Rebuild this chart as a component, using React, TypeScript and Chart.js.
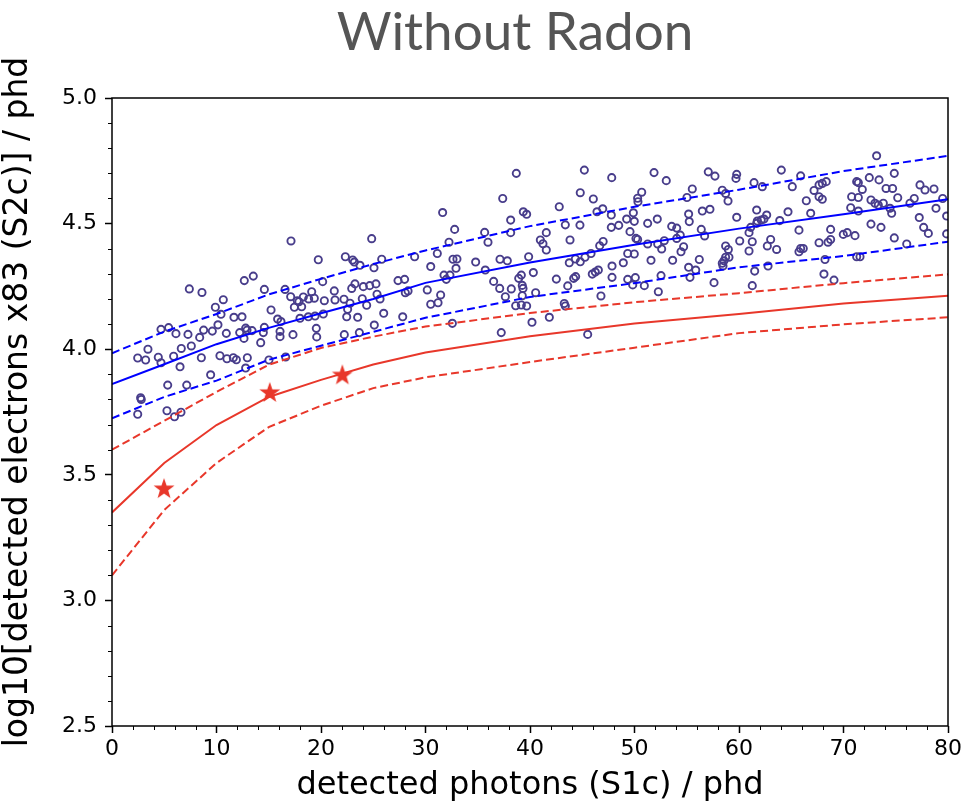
import React, { useEffect, useRef } from 'react';
import { Chart, registerables } from 'chart.js';

Chart.register(...registerables);

// ---- Data ----
const lineX = [0, 5, 10, 15, 20, 25, 30, 40, 50, 60, 70, 80];
const blueMedian = [3.861, 3.94, 4.02, 4.085, 4.143, 4.2, 4.264, 4.345, 4.416, 4.48, 4.537, 4.597];
const blueUpper = [3.984, 4.07, 4.14, 4.218, 4.28, 4.339, 4.393, 4.49, 4.567, 4.635, 4.709, 4.77];
const blueLower = [3.725, 3.81, 3.875, 3.958, 4.014, 4.069, 4.125, 4.208, 4.263, 4.326, 4.371, 4.428];
const redMedian = [3.35, 3.547, 3.698, 3.81, 3.878, 3.939, 3.987, 4.052, 4.102, 4.14, 4.182, 4.213];
const redUpper = [3.6, 3.715, 3.83, 3.938, 4.005, 4.05, 4.09, 4.144, 4.187, 4.223, 4.263, 4.298];
const redLower = [3.1, 3.36, 3.547, 3.69, 3.775, 3.845, 3.888, 3.949, 4.006, 4.064, 4.099, 4.127];

const starX = [4.98, 15.1, 22.04];
const starY = [3.447, 3.83, 3.9];

const eventX = [
  7.4, 8.61, 12.66, 13.52, 10.65, 9.89, 10.43, 11.67, 12.44, 4.69, 5.42, 6.12, 7.27, 8.77, 9.6, 10.14, 8.39, 7.59, 6.63,
  10.94, 12.22, 12.79, 12.92, 13.4, 12.63, 14.23, 3.44, 2.46, 3.22, 4.43, 4.69, 5.9, 6.51, 8.55, 10.33, 11.0, 11.61, 11.9,
  12.95, 12.79, 9.44, 5.33, 7.15, 2.74, 2.8, 2.46, 5.26, 5.98, 6.6,
  17.13, 19.74, 24.85, 22.33, 23.03, 23.19, 23.73, 25.07, 25.81, 14.58, 16.56, 17.1, 17.73, 18.31, 18.82, 19.11, 19.36,
  20.16, 20.32, 21.27, 21.34, 22.2, 22.94, 23.25, 24.05, 24.66, 25.26, 25.36, 25.65, 23.95, 24.37, 22.78, 22.55, 22.46,
  23.51, 26.0, 27.37, 28.0, 27.82, 15.22, 17.45, 17.89, 18.15, 18.79, 19.43, 20.22, 17.99, 15.85, 16.17, 14.58, 14.48,
  16.08, 16.08, 17.32, 19.55, 19.59, 22.23, 23.67, 25.1, 15.02, 16.62,
  38.69, 37.39, 31.64, 39.36, 39.68, 38.15, 32.79, 35.66, 38.15, 32.25, 35.98, 40.99, 41.24, 41.56, 41.56, 28.96, 31.13,
  32.63, 33.01, 32.92, 30.5, 34.8, 35.72, 37.13, 37.83, 39.87, 31.77, 31.99, 32.34, 28.07, 28.33, 30.17, 31.45, 30.5,
  31.2, 36.52, 37.1, 38.21, 38.92, 39.17, 39.26, 39.33, 40.32, 37.64, 39.26, 40.54, 38.63, 39.17, 39.68, 32.57, 37.25,
  40.19,
  45.2, 47.82, 51.87, 53.04, 44.81, 46.06, 50.69, 50.3, 50.33, 55.02, 42.8, 46.41, 46.96, 47.78, 49.89, 49.25, 49.98,
  52.18, 51.26, 55.18, 55.24, 43.38, 44.78, 47.78, 48.49, 49.57, 53.56, 54.04, 43.83, 47.0, 46.67, 50.14, 50.3, 51.26,
  52.22, 52.85, 52.6, 54.04, 54.38, 54.7, 54.45, 45.84, 45.26, 44.81, 44.34, 43.76, 49.35, 49.98, 51.58, 53.65, 48.93,
  55.18, 47.85, 42.52, 44.18, 44.37, 45.96, 46.25, 46.54, 47.85, 49.35, 50.08, 49.83, 50.94, 52.54, 52.28, 43.61, 46.79,
  43.28, 43.38, 41.85, 45.52,
  57.06, 57.7, 59.78, 59.71, 64.05, 65.9, 61.44, 62.23, 65.1, 67.66, 67.97, 68.35, 67.18, 67.66, 67.97, 55.53, 58.4,
  58.72, 58.95, 66.44, 56.49, 57.22, 59.78, 61.69, 62.65, 64.69, 66.86, 61.75, 62.13, 61.69, 62.39, 61.12, 60.96, 63.9,
  56.39, 56.71, 65.74, 68.77, 60.07, 61.27, 60.96, 63.03, 62.71, 63.6, 58.72, 58.98, 58.72, 59.04, 58.56, 58.4, 58.47,
  56.2, 55.86, 55.31, 65.9, 66.15, 65.74, 67.66, 68.52, 68.77, 62.78, 61.5, 57.61, 61.27, 68.23, 68.13, 69.09,
  73.17, 74.86, 72.47, 73.4, 71.26, 71.42, 77.32, 77.8, 78.66, 71.8, 74.07, 74.7, 70.78, 71.42, 75.19, 72.63, 73.01,
  73.33, 73.81, 76.36, 76.77, 79.49, 70.69, 71.42, 74.45, 74.61, 78.85, 77.25, 79.87, 72.63, 73.59, 77.67, 78.12, 69.98,
  70.36, 71.1, 74.86, 76.05, 79.87, 71.26, 71.58,
];

const eventY = [
  4.24, 4.226, 4.273, 4.291, 4.197, 4.167, 4.139, 4.127, 4.129, 4.079, 4.086, 4.062, 4.059, 4.076, 4.072, 4.097, 4.047,
  4.013, 4.003, 4.063, 4.066, 4.084, 4.076, 4.074, 4.043, 4.026, 4.0, 3.965, 3.957, 3.968, 3.946, 3.972, 3.93, 3.966,
  3.974, 3.962, 3.966, 3.958, 3.966, 3.925, 3.898, 3.857, 3.857, 3.807, 3.8, 3.741, 3.755, 3.731, 3.749,
  4.431, 4.356, 4.44, 4.368, 4.355, 4.347, 4.334, 4.324, 4.358, 4.238, 4.238, 4.209, 4.193, 4.208, 4.2, 4.229, 4.203,
  4.269, 4.193, 4.232, 4.196, 4.199, 4.242, 4.26, 4.249, 4.253, 4.26, 4.219, 4.2, 4.201, 4.175, 4.183, 4.159, 4.129,
  4.127, 4.143, 4.273, 4.278, 4.129, 4.156, 4.167, 4.189, 4.169, 4.129, 4.132, 4.14, 4.123, 4.12, 4.11, 4.087, 4.066,
  4.071, 4.05, 4.058, 4.083, 4.049, 4.058, 4.066, 4.096, 3.957, 3.969,
  4.7, 4.6, 4.544, 4.547, 4.537, 4.514, 4.477, 4.465, 4.464, 4.426, 4.426, 4.435, 4.42, 4.395, 4.464, 4.368, 4.381,
  4.358, 4.359, 4.322, 4.329, 4.347, 4.315, 4.358, 4.352, 4.368, 4.295, 4.278, 4.295, 4.225, 4.232, 4.236, 4.216, 4.179,
  4.185, 4.27, 4.242, 4.24, 4.282, 4.295, 4.254, 4.242, 4.305, 4.209, 4.213, 4.225, 4.173, 4.176, 4.172, 4.103, 4.066,
  4.107,
  4.713, 4.683, 4.703, 4.671, 4.623, 4.598, 4.625, 4.601, 4.587, 4.604, 4.567, 4.547, 4.559, 4.534, 4.543, 4.518, 4.509,
  4.518, 4.501, 4.538, 4.508, 4.495, 4.494, 4.485, 4.493, 4.468, 4.489, 4.482, 4.435, 4.429, 4.412, 4.441, 4.437, 4.419,
  4.419, 4.432, 4.399, 4.441, 4.454, 4.408, 4.388, 4.381, 4.366, 4.348, 4.359, 4.344, 4.381, 4.379, 4.354, 4.354, 4.344,
  4.326, 4.331, 4.279, 4.282, 4.289, 4.299, 4.307, 4.315, 4.286, 4.278, 4.285, 4.256, 4.253, 4.293, 4.229, 4.252, 4.212,
  4.182, 4.172, 4.127, 4.059,
  4.706, 4.689, 4.696, 4.68, 4.713, 4.69, 4.663, 4.647, 4.647, 4.654, 4.66, 4.667, 4.632, 4.607, 4.597, 4.638, 4.633,
  4.62, 4.59, 4.591, 4.55, 4.557, 4.525, 4.554, 4.534, 4.547, 4.541, 4.51, 4.514, 4.501, 4.518, 4.485, 4.464, 4.512,
  4.477, 4.451, 4.474, 4.477, 4.431, 4.428, 4.391, 4.437, 4.411, 4.397, 4.411, 4.397, 4.366, 4.366, 4.352, 4.342, 4.331,
  4.357, 4.315, 4.286, 4.401, 4.401, 4.388, 4.424, 4.426, 4.437, 4.331, 4.311, 4.265, 4.253, 4.357, 4.299, 4.275,
  4.77, 4.7, 4.683, 4.674, 4.667, 4.663, 4.654, 4.634, 4.638, 4.636, 4.64, 4.64, 4.607, 4.604, 4.603, 4.594, 4.581,
  4.574, 4.581, 4.581, 4.6, 4.6, 4.563, 4.55, 4.561, 4.541, 4.561, 4.524, 4.53, 4.498, 4.485, 4.485, 4.461, 4.457,
  4.464, 4.452, 4.443, 4.419, 4.459, 4.368, 4.368,
];

const xTickValues = [0, 10, 20, 30, 40, 50, 60, 70, 80];
const yTickValues = [2.5, 3.0, 3.5, 4.0, 4.5, 5.0];

const TITLE = 'Without Radon';
const X_LABEL = 'detected photons (S1c) / phd';
const Y_LABEL = 'log10[detected electrons x83 (S2c)] / phd';

const BLUE = '#0000ff';
const RED = '#e8372a';
const EVENT = 'rgb(72,61,139)';

function makeStar(r: number, color: string): HTMLCanvasElement {
  const c = document.createElement('canvas');
  const s = Math.ceil(r * 2 + 2);
  c.width = s;
  c.height = s;
  const ctx = c.getContext('2d')!;
  ctx.fillStyle = color;
  ctx.beginPath();
  for (let i = 0; i < 10; i++) {
    const rad = i % 2 === 0 ? r : r * 0.4;
    const a = -Math.PI / 2 + (i * Math.PI) / 5;
    ctx.lineTo(s / 2 + rad * Math.cos(a), s / 2 + 1 + rad * Math.sin(a));
  }
  ctx.closePath();
  ctx.fill();
  return c;
}

const decorations = {
  id: 'decorations',
  afterDatasetsDraw(chart: any) {
    const { ctx, chartArea } = chart;
    const { left, right, top, bottom } = chartArea;
    const xs = chart.scales.x;
    const ys = chart.scales.y;
    ctx.save();
    ctx.strokeStyle = '#000';
    ctx.lineWidth = 1.5;
    ctx.strokeRect(left, top, right - left, bottom - top);
    ctx.lineWidth = 1;
    ctx.beginPath();
    for (let v = 0; v <= 80; v += 2) {
      if (v % 10 === 0) continue;
      const px = Math.round(xs.getPixelForValue(v)) + 0.5;
      ctx.moveTo(px, bottom);
      ctx.lineTo(px, bottom + 4);
    }
    for (let i = 25; i <= 50; i++) {
      if (i % 5 === 0) continue;
      const py = Math.round(ys.getPixelForValue(i / 10)) + 0.5;
      ctx.moveTo(left, py);
      ctx.lineTo(left - 4, py);
    }
    ctx.stroke();
    ctx.restore();
  },
  afterDraw(chart: any) {
    const { ctx } = chart;
    ctx.save();
    // chart title
    ctx.fillStyle = '#555555';
    ctx.font = '53px Lato';
    ctx.textAlign = 'center';
    ctx.textBaseline = 'alphabetic';
    ctx.fillText(TITLE, 515, 50);
    // y axis title
    ctx.fillStyle = '#000';
    ctx.font = '33px "DejaVu Sans"';
    ctx.translate(27, 402);
    ctx.rotate(-Math.PI / 2);
    ctx.textAlign = 'center';
    ctx.textBaseline = 'alphabetic';
    ctx.fillText(Y_LABEL, 0, 0);
    ctx.restore();
  },
};

function lineDataset(ys: number[], color: string, dashed: boolean) {
  return {
    data: lineX.map((x, i) => ({ x, y: ys[i] })),
    showLine: true,
    borderColor: color,
    borderWidth: 2,
    borderDash: dashed ? [8, 4] : [],
    pointRadius: 0,
    fill: false,
    tension: 0,
    order: 1,
  };
}

export default function App() {
  const ref = useRef<HTMLCanvasElement | null>(null);

  useEffect(() => {
    if (!ref.current) return;
    const star = makeStar(11, RED);
    const chart = new Chart(ref.current, {
      type: 'scatter',
      data: {
        datasets: [
          {
            data: starX.map((x, i) => ({ x, y: starY[i] })),
            pointStyle: star as any,
            pointRadius: 11,
            showLine: false,
            order: 0,
          } as any,
          lineDataset(blueMedian, BLUE, false),
          lineDataset(blueUpper, BLUE, true),
          lineDataset(blueLower, BLUE, true),
          lineDataset(redMedian, RED, false),
          lineDataset(redUpper, RED, true),
          lineDataset(redLower, RED, true),
          {
            data: eventX.map((x, i) => ({ x, y: eventY[i] })),
            pointStyle: 'circle',
            pointRadius: 3.6,
            pointBorderWidth: 1.9,
            pointBorderColor: EVENT,
            pointBackgroundColor: 'rgba(0,0,0,0)',
            showLine: false,
            order: 2,
          } as any,
        ],
      },
      options: {
        responsive: false,
        animation: false,
        events: [],
        layout: { padding: { left: 0, right: 28, top: 98, bottom: 0 } },
        plugins: {
          legend: { display: false },
          tooltip: { enabled: false },
          title: { display: false },
        },
        scales: {
          x: {
            type: 'linear',
            min: 0,
            max: 80,
            afterBuildTicks: (scale: any) => {
              scale.ticks = xTickValues.map((v) => ({ value: v }));
            },
            afterFit: (scale: any) => {
              scale.height = 79;
            },
            ticks: {
              autoSkip: false,
              maxRotation: 0,
              padding: 3,
              color: '#000',
              font: { family: 'DejaVu Sans', size: 22 },
              callback: (v: any) => String(v),
            },
            grid: {
              display: true,
              drawOnChartArea: false,
              drawTicks: true,
              tickLength: 7,
              tickWidth: 1.5,
              tickColor: '#000',
            },
            border: { display: false },
            title: {
              display: true,
              text: X_LABEL,
              color: '#000',
              font: { family: 'DejaVu Sans', size: 32, lineHeight: 1.2 },
              padding: { top: 0, bottom: 0 },
            },
          },
          y: {
            type: 'linear',
            min: 2.5,
            max: 5.0,
            afterBuildTicks: (scale: any) => {
              scale.ticks = yTickValues.map((v) => ({ value: v }));
            },
            afterFit: (scale: any) => {
              scale.width = 112;
            },
            ticks: {
              autoSkip: false,
              padding: 8,
              color: '#000',
              font: { family: 'DejaVu Sans', size: 22 },
              callback: (v: any) => Number(v).toFixed(1),
            },
            grid: {
              display: true,
              drawOnChartArea: false,
              drawTicks: true,
              tickLength: 7,
              tickWidth: 1.5,
              tickColor: '#000',
            },
            border: { display: false },
            title: { display: false },
          },
        },
      } as any,
      plugins: [decorations],
    });
    return () => chart.destroy();
  }, []);

  return (
    <div style={{ position: 'fixed', left: 0, top: 0, width: 976, height: 805, background: '#fff' }}>
      <canvas ref={ref} width={976} height={805} style={{ width: 976, height: 805, display: 'block' }} />
    </div>
  );
}
